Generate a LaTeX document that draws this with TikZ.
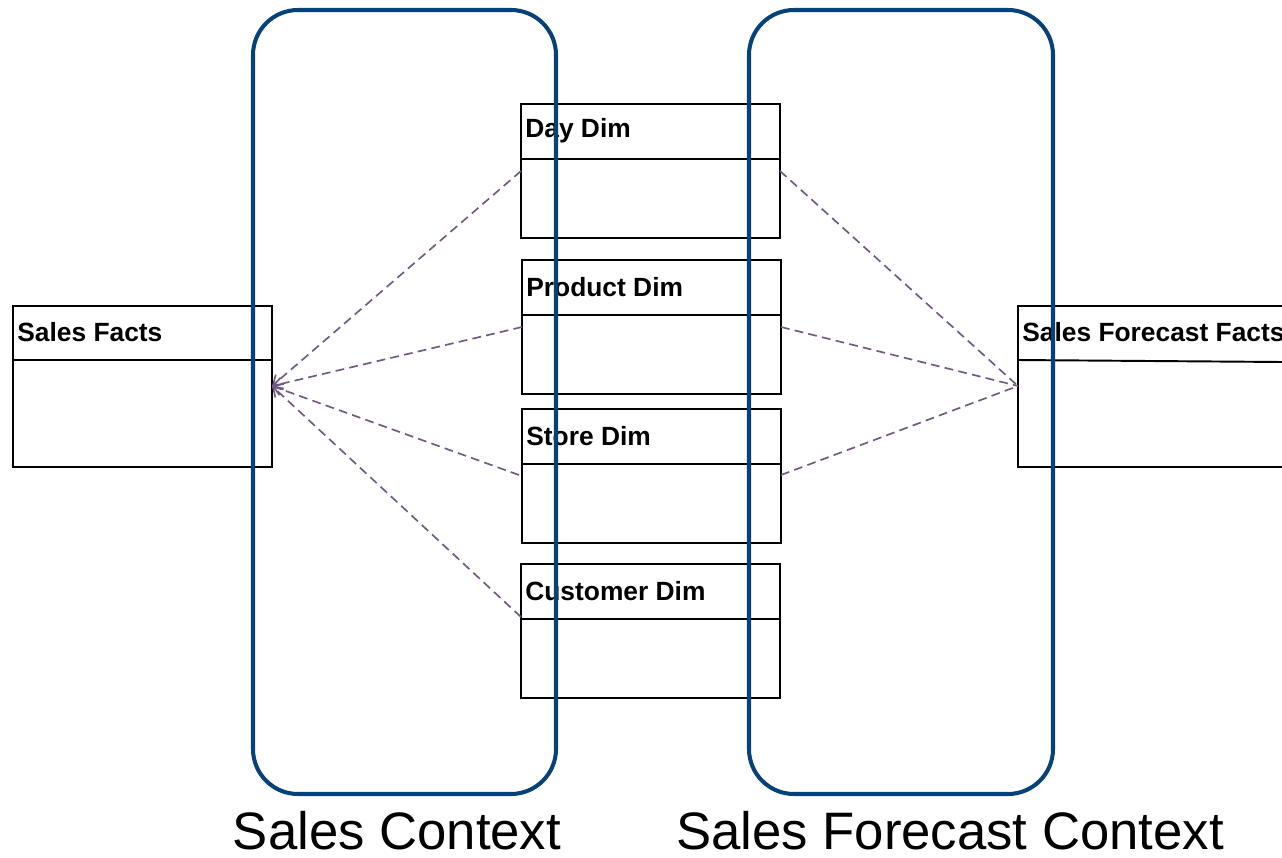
\documentclass[tikz,border=0pt]{standalone}
\usepackage{fontspec}
\setmainfont{Liberation Sans}
\usetikzlibrary{fit,arrows.meta}
\definecolor{ctxblue}{RGB}{6,66,120}
\definecolor{linkgray}{RGB}{112,90,130}
\tikzset{
  tbl/.style={draw=black, line width=1.1pt, inner sep=0pt, fill=white},
  hdr/.style={draw=black, line width=1.1pt},
  ttl/.style={anchor=west, inner sep=0pt, font=\fontsize{15pt}{17pt}\selectfont\bfseries},
  ctx/.style={draw=ctxblue, line width=2.3pt, rounded corners=0.9cm, inner sep=0pt},
  ctxlabel/.style={inner sep=0pt, font=\fontsize{30pt}{34pt}\selectfont},
  link/.style={draw=linkgray, line width=0.95pt, dash pattern=on 5pt off 3pt},
  linkarrow/.style={link, -{Straight Barb[length=5pt,width=7pt]}}
}
\begin{document}
\begin{tikzpicture}[x=0.02cm,y=-0.02cm]
\useasboundingbox (0,0) rectangle (1282,858);
\clip (0,0) rectangle (1282,858);
% tables
\node[tbl, fit={(13,306) (272,467)}] (sf) {};
\draw[hdr] (sf.west |- 0,360) -- (sf.east |- 0,360);
\node[ttl] (sfT) at (17,332) {Sales Facts};

\node[tbl, fit={(521,104) (780,238)}] (day) {};
\draw[hdr] (day.west |- 0,159) -- (day.east |- 0,159);
\node[ttl] (dayT) at (525,131) {Day Dim};

\node[tbl, fit={(522,260) (781,394)}] (prod) {};
\draw[hdr] (prod.west |- 0,315) -- (prod.east |- 0,315);
\node[ttl] (prodT) at (526,287) {Product Dim};

\node[tbl, fit={(522,409) (781,543)}] (store) {};
\draw[hdr] (store.west |- 0,464) -- (store.east |- 0,464);
\node[ttl] (storeT) at (526,436) {Store Dim};

\node[tbl, fit={(521,564) (780,698)}] (cust) {};
\draw[hdr] (cust.west |- 0,619) -- (cust.east |- 0,619);
\node[ttl] (custT) at (525,591) {Customer Dim};

\node[tbl, fit={(1018,306) (1320,467)}] (sff) {};
\draw[hdr] (sff.west |- 0,360) -- (1282,362);
\node[ttl] (sffT) at (1022,332) {Sales Forecast Facts};

% anchor points
\coordinate (sfR) at (272,386);
\coordinate (sffL) at (1018,386);
\coordinate (dayL) at (521,171);
\coordinate (dayR) at (780,171);
\coordinate (prodL) at (522,327);
\coordinate (prodR) at (781,327);
\coordinate (storeL) at (519,475);
\coordinate (storeR) at (781,475);
\coordinate (custL) at (521,617);

% links
\draw[linkarrow] (dayL) -- (sfR);
\draw[linkarrow] (prodL) -- (sfR);
\draw[linkarrow] (storeL) -- (sfR);
\draw[linkarrow] (custL) -- (sfR);
\draw[link] (dayR) -- (sffL);
\draw[link] (prodR) -- (sffL);
\draw[link] (storeR) -- (sffL);

% contexts
\node[ctx, fit={(253,10) (556,794)}] (sc) {};
\node[ctx, fit={(749,10) (1053,794)}] (sfc) {};
\node[ctxlabel] (scL) at (397,831) {Sales Context};
\node[ctxlabel] (sfcL) at (950,831) {Sales Forecast Context};
\end{tikzpicture}
\end{document}
